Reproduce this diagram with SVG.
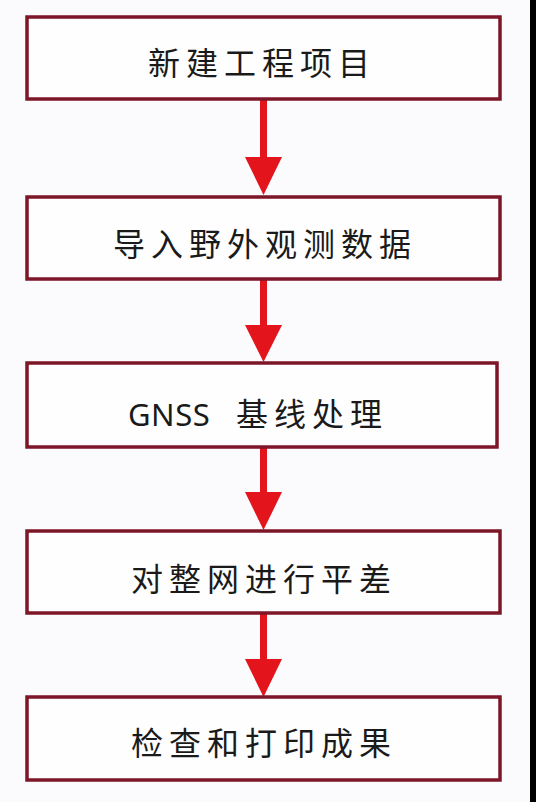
<svg xmlns="http://www.w3.org/2000/svg" width="536" height="802" viewBox="0 0 536 802">
  <style>
    .box { fill: #fefefe; stroke: #7d1628; stroke-width: 3.5; }
    .lbl { font-family: "Noto Sans CJK SC", "Noto Sans", sans-serif; font-size: 32px; fill: #1a1a1a; text-anchor: middle; letter-spacing: 6px; }
    .lat { font-family: "Noto Sans", "Open Sans", sans-serif; font-size: 31px; fill: #1a1a1a; letter-spacing: 0.5px; }
    .shaft { stroke: #e3141c; stroke-width: 7; fill: none; }
    .head { fill: #e3141c; }
  </style>
  <rect x="0" y="0" width="536" height="802" fill="#fbfbfd"/>
  <rect x="530" y="0" width="6" height="802" fill="#000000"/>

  <g id="connectors">
    <line class="shaft" x1="263.5" y1="100" x2="263.5" y2="158"/>
    <polygon class="head" points="245,157 282,157 263.5,195"/>
    <line class="shaft" x1="263.5" y1="280" x2="263.5" y2="326"/>
    <polygon class="head" points="245,325 282,325 263.5,362"/>
    <line class="shaft" x1="263.5" y1="447" x2="263.5" y2="493"/>
    <polygon class="head" points="245,492 282,492 263.5,530"/>
    <line class="shaft" x1="263.5" y1="614" x2="263.5" y2="660"/>
    <polygon class="head" points="245,659 282,659 263.5,697"/>
  </g>

  <g id="node1">
    <rect class="box" x="27" y="17" width="473" height="82"/>
    <text class="lbl" x="262" y="75">新建工程项目</text>
  </g>
  <g id="node2">
    <rect class="box" x="27" y="197" width="473" height="82"/>
    <text class="lbl" x="265" y="256">导入野外观测数据</text>
  </g>
  <g id="node3">
    <rect class="box" x="27" y="363" width="470" height="84"/>
    <text x="128" y="426"><tspan class="lat">GNSS</tspan><tspan class="lbl" x="236" style="text-anchor:start">基线处理</tspan></text>
  </g>
  <g id="node4">
    <rect class="box" x="27" y="531" width="473" height="82"/>
    <text class="lbl" x="264" y="591">对整网进行平差</text>
  </g>
  <g id="node5">
    <rect class="box" x="27" y="697" width="473" height="83"/>
    <text class="lbl" x="264" y="755">检查和打印成果</text>
  </g>
</svg>
